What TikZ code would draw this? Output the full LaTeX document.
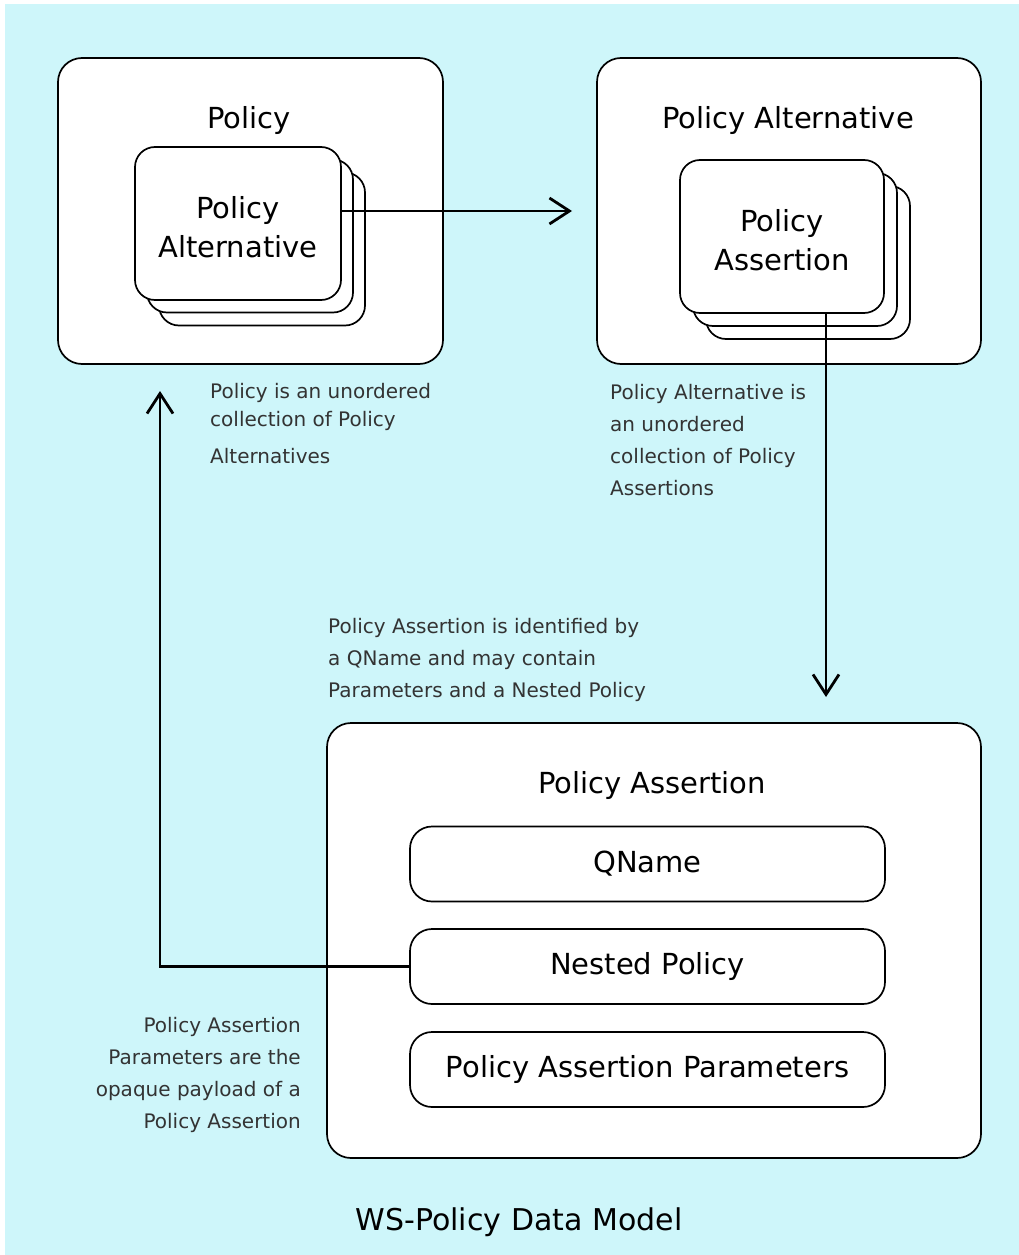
\documentclass[tikz,border=0pt]{standalone}
\usepackage{fontspec}
\setmainfont{DejaVu Sans}
\usepackage{xcolor}
\usepackage{tikz}
\usetikzlibrary{arrows.meta, positioning}
\definecolor{skyfill}{RGB}{206,246,250}
\def\bigtxt{\fontsize{29}{39}\selectfont}
\def\smalltxt{\fontsize{20}{32}\selectfont}

\begin{document}
\begin{tikzpicture}[x=1pt,y=-1pt,
  frame/.style={draw,line width=1.7pt,fill=white,rounded corners=24pt,inner sep=0pt},
  card/.style={draw,line width=1.7pt,fill=white,rounded corners=20pt,align=center,inner sep=0pt,minimum height=153pt,font=\bigtxt},
  pill/.style={draw,line width=1.7pt,fill=white,rounded corners=22pt,minimum width=475pt,minimum height=75pt,font=\bigtxt},
  title/.style={font=\bigtxt},
  cardtext/.style={font=\bigtxt,align=center,yshift=-4pt},
  note/.style={font=\smalltxt,text=black!80,inner sep=0pt},
  flow/.style={line width=2.8pt,-{Straight Barb[length=20pt,width=26pt]}}]
\useasboundingbox (0,0) rectangle (1019,1255);
\fill[white] (0,0) rectangle (1019,1255);
\fill[skyfill] (5,4) rectangle (1019,1255);

\node[frame,minimum width=385pt,minimum height=306pt] (policy) at (250.5,211) {};
\node[title] (policyT) at (249,120) {Policy};
\node[card,minimum width=206pt] (alt3) at (262,249) {};
\node[card,minimum width=206pt] (alt2) at (250,236) {};
\node[card,minimum width=206pt,label={[cardtext]center:Policy\\Alternative}] (alt) at (238,223.5) {};

\node[frame,minimum width=384pt,minimum height=306pt] (alter) at (789,211) {};
\node[title] (alterT) at (788,120) {Policy Alternative};
\node[card,minimum width=204pt] (asr3) at (808,262.5) {};
\node[card,minimum width=204pt] (asr2) at (795,249.5) {};
\node[card,minimum width=204pt,label={[cardtext]center:Policy\\Assertion}] (asr) at (782,236.5) {};

\node[frame,minimum width=654pt,minimum height=435pt] (assert) at (654,940.5) {};
\node[title] (assertT) at (652,785) {Policy Assertion};
\node[pill] (qname) at (647.5,864) {QName};
\node[pill] (nested) at (647.5,966.5) {Nested Policy};
\node[pill] (params) at (647.5,1069.5) {Policy Assertion Parameters};

\node[note,anchor=north west,align=left] (n1) at (210,383) {Policy is an unordered\\[-4pt]collection of Policy\\[5pt]Alternatives};
\node[note,anchor=north west,align=left] (n2) at (610,384) {Policy Alternative is\\an unordered\\collection of Policy\\Assertions};
\node[note,anchor=north west,align=left] (n3) at (328,618) {Policy Assertion is identified by\\a QName and may contain\\Parameters and a Nested Policy};
\node[note,anchor=north east,align=right] (n4) at (301,1017) {Policy Assertion\\Parameters are the\\opaque payload of a\\Policy Assertion};

\node[title,font=\fontsize{30}{36}\selectfont] (caption) at (519,1222) {WS-Policy Data Model};

\coordinate (tip1) at (572,211);
\coordinate (tip2) at (826,697);
\coordinate (tip3) at (160,391);
\draw[flow] (alt.east |- tip1) -- (tip1);
\draw[flow] (asr.south -| tip2) -- (tip2);
\draw[flow] (nested.west) -| (tip3);
\end{tikzpicture}
\end{document}
